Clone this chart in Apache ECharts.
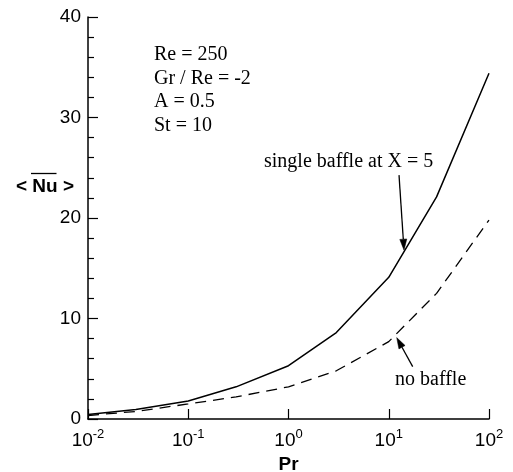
<!DOCTYPE html>
<html>
<head>
<meta charset="utf-8">
<script src="https://cdn.jsdelivr.net/npm/echarts@6/dist/echarts.min.js"></script>
<style>
  html, body { margin: 0; padding: 0; background: #fff; }
  #chart { width: 513px; height: 472px; }
</style>
</head>
<body>
<div id="chart"></div>
<script>
// Prandtl numbers (log axis) and space-averaged Nusselt numbers
const prandtl = [0.01, 0.03, 0.1, 0.3, 1, 3, 10, 30, 100];
const nuSingleBaffle = [0.45, 0.95, 1.8, 3.2, 5.3, 8.6, 14.1, 22.1, 34.4];
const nuNoBaffle = [0.35, 0.75, 1.5, 2.2, 3.2, 4.8, 7.7, 12.5, 19.8];

const xTicks = [0.01, 0.1, 1, 10, 100];
const yTicks = [0, 10, 20, 30, 40];

const paramLines = ['Re = 250', 'Gr / Re = -2', 'A = 0.5', 'St = 10'];

// Arrow annotations: tip is in data coordinates, tail is a pixel offset from the tip
const annotations = [
  { text: 'single baffle at X = 5', tip: [14.2, 16.8], tail: [-5, -75] },
  { text: 'no baffle', tip: [12.0, 8.1], tail: [16, 29] }
];

const SANS = 'Liberation Sans, Arial, Helvetica, sans-serif';
const SERIF = 'Liberation Serif, Times New Roman, serif';

const chart = echarts.init(document.getElementById('chart'), null, { renderer: 'canvas' });

function pairs(xs, ys) { return xs.map((x, i) => [x, ys[i]]); }

const option = {
  animation: false,
  backgroundColor: '#fff',
  grid: { left: 88, right: 24, top: 17, bottom: 53, containLabel: false, outerBoundsMode: 'none' },
  xAxis: {
    type: 'log',
    logBase: 10,
    min: xTicks[0],
    max: xTicks[xTicks.length - 1],
    axisLine: { show: true, onZero: false, lineStyle: { color: '#000', width: 1.5 } },
    axisTick: { show: true, inside: true, length: 10, lineStyle: { color: '#000', width: 1.2 } },
    minorTick: { show: false },
    splitLine: { show: false },
    axisLabel: {
      margin: 9,
      color: '#000',
      fontFamily: SANS,
      fontSize: 19,
      formatter: function (v) {
        const e = Math.round(Math.log10(v));
        return '{b|10}{s|' + e + '}';
      },
      rich: {
        b: { fontFamily: SANS, fontSize: 19, color: '#000', lineHeight: 22, verticalAlign: 'bottom' },
        s: { fontFamily: SANS, fontSize: 13, color: '#000', lineHeight: 22, verticalAlign: 'top', padding: [0, 0, 8, 0] }
      }
    },
    name: 'Pr',
    nameLocation: 'middle',
    nameGap: 30,
    nameTextStyle: { fontFamily: SANS, fontSize: 19, fontWeight: 'bold', color: '#000' }
  },
  yAxis: {
    type: 'value',
    min: yTicks[0],
    max: yTicks[yTicks.length - 1],
    interval: 10,
    axisLine: { show: true, onZero: false, lineStyle: { color: '#000', width: 1.5 } },
    axisTick: { show: true, inside: true, length: 10, lineStyle: { color: '#000', width: 1.2 } },
    minorTick: { show: true, splitNumber: 5, length: 6, lineStyle: { color: '#000', width: 1.2 } },
    splitLine: { show: false },
    axisLabel: { margin: 7, color: '#000', fontFamily: SANS, fontSize: 19 }
  },
  series: [
    {
      name: 'single baffle at X = 5',
      type: 'line',
      data: pairs(prandtl, nuSingleBaffle),
      showSymbol: false,
      symbol: 'none',
      lineStyle: { color: '#000', width: 1.5, type: 'solid' },
      z: 3
    },
    {
      name: 'no baffle',
      type: 'line',
      data: pairs(prandtl, nuNoBaffle),
      showSymbol: false,
      symbol: 'none',
      lineStyle: { color: '#000', width: 1.3, type: [11, 7] },
      z: 3
    }
  ]
};

chart.setOption(option);

function arrowElements(tip, tail) {
  const dx = tip[0] - tail[0], dy = tip[1] - tail[1];
  const len = Math.sqrt(dx * dx + dy * dy);
  const ux = dx / len, uy = dy / len;
  const headLen = 11, headHalf = 3.5;
  const bx = tip[0] - ux * headLen, by = tip[1] - uy * headLen;
  const px = -uy * headHalf, py = ux * headHalf;
  return [
    {
      type: 'line',
      shape: { x1: tail[0], y1: tail[1], x2: bx, y2: by },
      style: { stroke: '#000', lineWidth: 1.3 },
      silent: true
    },
    {
      type: 'polygon',
      shape: { points: [[tip[0], tip[1]], [bx + px, by + py], [bx - px, by - py]] },
      style: { fill: '#000', stroke: '#000', lineWidth: 0.5 },
      silent: true
    }
  ];
}

function buildGraphics() {
  const els = [];

  // Parameter block
  paramLines.forEach(function (t, i) {
    els.push({
      type: 'text',
      left: 154,
      top: 45 + i * 23.5,
      style: { text: t, font: '20px ' + SERIF, fill: '#000' },
      silent: true
    });
  });

  // Y-axis title  < Nu >  with an overline over Nu
  els.push({
    type: 'text',
    x: 45, y: 187,
    style: {
      text: '< Nu >',
      font: 'bold 19px ' + SANS,
      fill: '#000',
      align: 'center',
      verticalAlign: 'middle'
    },
    silent: true
  });
  els.push({
    type: 'line',
    shape: { x1: 31, y1: 173.5, x2: 56.5, y2: 173.5 },
    style: { stroke: '#000', lineWidth: 1.3 },
    silent: true
  });

  // Curve labels with arrows
  const labelPos = [
    { x: 264, y: 162, align: 'left' },
    { x: 395, y: 380, align: 'left' }
  ];
  annotations.forEach(function (a, i) {
    const tip = chart.convertToPixel({ gridIndex: 0 }, a.tip);
    const tail = [tip[0] + a.tail[0], tip[1] + a.tail[1]];
    arrowElements(tip, tail).forEach(function (e) { els.push(e); });
    els.push({
      type: 'text',
      x: labelPos[i].x, y: labelPos[i].y,
      style: {
        text: a.text,
        font: '20px ' + SERIF,
        fill: '#000',
        align: labelPos[i].align,
        verticalAlign: 'middle'
      },
      silent: true
    });
  });

  chart.setOption({ graphic: { elements: els } });
}

buildGraphics();
</script>
</body>
</html>
